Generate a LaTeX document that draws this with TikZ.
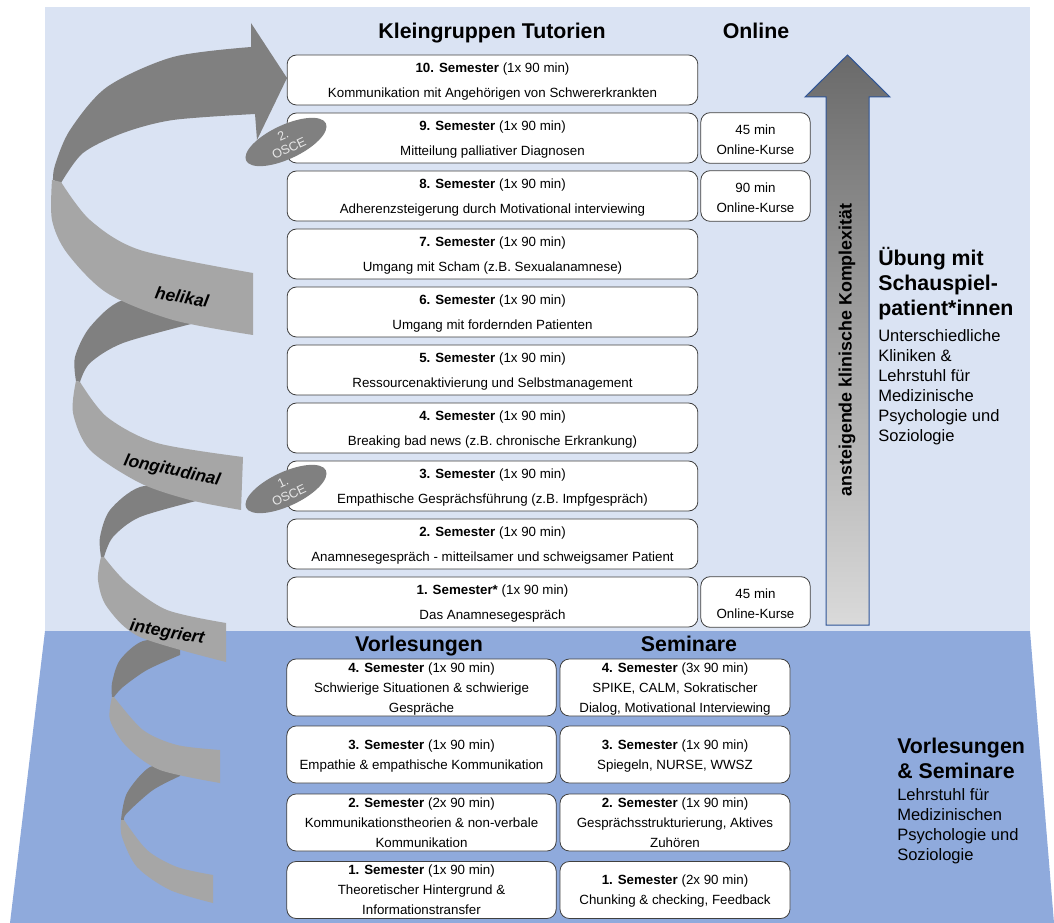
\documentclass[tikz,border=0pt]{standalone}
\usepackage{fontspec}
\setmainfont{Liberation Sans}
\usetikzlibrary{shapes.geometric}

\definecolor{bglight}{HTML}{DAE3F3}
\definecolor{bgdark}{HTML}{8FAADC}
\definecolor{bandback}{HTML}{808080}
\definecolor{bandfront}{HTML}{A6A6A6}
\definecolor{arrowblue}{HTML}{2F5597}
\definecolor{arrowtop}{HTML}{6A6A6A}
\definecolor{arrowbottom}{HTML}{DADADA}
\definecolor{boxline}{HTML}{404040}
\definecolor{osceText}{HTML}{E8E8E8}

\begin{document}
\begin{tikzpicture}[x=0.75pt,y=-0.75pt,
	semesterbox/.style={shape=rectangle,rounded corners=7pt,draw=boxline,fill=white,line width=0.6pt,
		inner sep=0pt,align=center},
	tutor/.style={semesterbox,minimum width=308pt,minimum height=37.5pt,text height=27pt,text depth=0.3pt,
		font=\fontsize{10}{19}\selectfont},
	online/.style={semesterbox,minimum width=82pt,minimum height=38pt,text height=24.4pt,text depth=0pt,
		font=\fontsize{10}{15}\selectfont},
	lecture/.style={semesterbox,minimum width=202pt,minimum height=42.75pt,text depth=-0.8pt,
		font=\fontsize{10}{15}\selectfont},
	seminar/.style={lecture,minimum width=172.5pt},
	heading/.style={anchor=base,font=\fontsize{16}{19}\selectfont\bfseries,inner sep=0pt},
	osce/.style={shape=ellipse,fill=bandback,text=osceText,minimum width=66pt,minimum height=25.5pt,
		inner sep=0pt,rotate=25,align=center,font=\fontsize{9.5}{10.5}\selectfont},
	bandlabel/.style={font=\fontsize{13}{15}\selectfont\bfseries\itshape,inner sep=0pt}]

	\useasboundingbox (0,0) rectangle (1054,923);

	% background
	\fill[bglight] (45,7) rectangle (1030,631);
	\fill[bgdark] (45,631) -- (1030,631) -- (1054,923) -- (10,923) -- cycle;

	% helix, back halves
	\fill[bandback] plot[smooth] coordinates {(251,47) (173,57) (107,87) (70,130) (55,165) (53,180)}
		-- plot[smooth] coordinates {(61,183) (83,153) (123,133) (173,120) (255,114)}
		-- (257,140) -- (287,78) -- (251,23) -- cycle;
	\fill[bandback] plot[smooth] coordinates {(180,300) (123,300) (90,327) (75,357) (76,381)}
		-- plot[smooth] coordinates {(80,382) (90,363) (123,343) (195,323)} -- cycle;
	\fill[bandback] plot[smooth] coordinates {(190,484) (140,487) (110,510) (100,537) (101,557)}
		-- plot[smooth] coordinates {(104,557) (113,537) (140,517) (200,500)} -- cycle;
	\fill[bandback] plot[smooth] coordinates {(180,640) (143,641) (120,660) (112,683) (112,697)}
		-- plot[smooth] coordinates {(114,697) (123,687) (147,670) (180,655)} -- cycle;
	\fill[bandback] plot[smooth] coordinates {(180,765) (150,767) (127,793) (121,820)}
		-- plot[smooth] coordinates {(124,820) (127,813) (153,790) (180,776)} -- cycle;

	% helix, front halves
	\fill[bandfront] plot[smooth] coordinates {(61,182) (90,220) (140,250) (253,273)}
		-- plot[smooth] coordinates {(253,335) (173,320) (107,293) (67,253) (52,220) (52,180)} -- cycle;
	\fill[bandfront] plot[smooth] coordinates {(80,382) (107,417) (157,443) (243,457)}
		-- plot[smooth] coordinates {(241,510) (190,500) (140,483) (90,450) (73,413) (76,381)} -- cycle;
	\fill[bandfront] plot[smooth] coordinates {(104,557) (127,583) (167,610) (226,623)}
		-- plot[smooth] coordinates {(226,662) (140,637) (107,607) (98,580) (101,557)} -- cycle;
	\fill[bandfront] plot[smooth] coordinates {(114,697) (143,730) (177,745) (220,750)}
		-- plot[smooth] coordinates {(220,783) (160,770) (127,747) (110,720) (112,697)} -- cycle;
	\fill[bandfront] plot[smooth] coordinates {(124,820) (147,850) (177,867) (213,875)}
		-- plot[smooth] coordinates {(213,903) (170,890) (137,867) (122,837) (121,820)} -- cycle;

	\node[bandlabel,rotate=-10] (helikal) at (182,297) {helikal};
	\node[bandlabel,rotate=-12] (longi) at (172,471) {longitudinal};
	\node[bandlabel,rotate=-10] (integ) at (167,633) {integriert};

	% column headings
	\node[heading] (htut) at (492,38.5) {Kleingruppen Tutorien};
	\node[heading] (honl) at (756,38.5) {Online};
	\node[heading] (hvor) at (419,652) {Vorlesungen};
	\node[heading] (hsem) at (689,652) {Seminare};

	% small group tutorials
	\node[tutor] (t10) at (492.5, 80) {\textbf{10. Semester} (1x 90 min)\\Kommunikation mit Angehörigen von Schwererkrankten};
	\node[tutor] (t9) at (492.5,138) {\textbf{9. Semester} (1x 90 min)\\Mitteilung palliativer Diagnosen};
	\node[tutor] (t8) at (492.5,196) {\textbf{8. Semester} (1x 90 min)\\Adherenzsteigerung durch Motivational interviewing};
	\node[tutor] (t7) at (492.5,254) {\textbf{7. Semester} (1x 90 min)\\Umgang mit Scham (z.B. Sexualanamnese)};
	\node[tutor] (t6) at (492.5,312) {\textbf{6. Semester} (1x 90 min)\\Umgang mit fordernden Patienten};
	\node[tutor] (t5) at (492.5,370) {\textbf{5. Semester} (1x 90 min)\\Ressourcenaktivierung und Selbstmanagement};
	\node[tutor] (t4) at (492.5,428) {\textbf{4. Semester} (1x 90 min)\\Breaking bad news (z.B. chronische Erkrankung)};
	\node[tutor] (t3) at (492.5,486) {\textbf{3. Semester} (1x 90 min)\\Empathische Gesprächsführung (z.B. Impfgespräch)};
	\node[tutor] (t2) at (492.5,544) {\textbf{2. Semester} (1x 90 min)\\Anamnesegespräch - mitteilsamer und schweigsamer Patient};
	\node[tutor] (t1) at (492.5,602) {\textbf{1. Semester*} (1x 90 min)\\Das Anamnesegespräch};

	% online courses
	\node[online] (o9) at (755.5,138) {45 min\\Online-Kurse};
	\node[online] (o8) at (755.5,196) {90 min\\Online-Kurse};
	\node[online] (o1) at (755.5,602) {45 min\\Online-Kurse};

	% lectures and seminars
	\node[lecture] (v4) at (421.5,687.5) {\textbf{4. Semester} (1x 90 min)\\Schwierige Situationen \& schwierige\\Gespräche};
	\node[lecture] (v3) at (421.5,754.5) {\textbf{3. Semester} (1x 90 min)\\Empathie \& empathische Kommunikation};
	\node[lecture] (v2) at (421.5,822.5) {\textbf{2. Semester} (2x 90 min)\\Kommunikationstheorien \& non-verbale\\Kommunikation};
	\node[lecture] (v1) at (421.5,890) {\textbf{1. Semester} (1x 90 min)\\Theoretischer Hintergrund \&\\Informationstransfer};
	\node[seminar] (s4) at (675,687.5) {\textbf{4. Semester} (3x 90 min)\\SPIKE, CALM, Sokratischer\\Dialog, Motivational Interviewing};
	\node[seminar] (s3) at (675,754.5) {\textbf{3. Semester} (1x 90 min)\\Spiegeln, NURSE, WWSZ};
	\node[seminar] (s2) at (675,822.5) {\textbf{2. Semester} (1x 90 min)\\Gesprächsstrukturierung, Aktives\\Zuhören};
	\node[seminar] (s1) at (675,890) {\textbf{1. Semester} (2x 90 min)\\Chunking \& checking, Feedback};

	% OSCE marks
	\node[osce] (osce2) at (286,142) {2.\\OSCE};
	\node[osce] (osce1) at (286,489) {1.\\OSCE};

	% complexity arrow
	\shade[draw=arrowblue,line width=0.75pt,top color=arrowtop,bottom color=arrowbottom]
		(826,625) -- (826,97) -- (805,97) -- (847.5,55) -- (890,97) -- (869,97) -- (869,625) -- cycle;
	\node[rotate=90,inner sep=0pt,font=\fontsize{13.4}{16}\selectfont\bfseries] (komplex) at (847,350)
		{ansteigende klinische Komplexität};

	% side notes
	\node[anchor=north west,align=left,inner sep=0pt,font=\fontsize{16}{18.75}\selectfont\bfseries] (uebung)
		at (878,247) {Übung mit\\Schauspiel-\\patient*innen};
	\node[anchor=north west,align=left,inner sep=0pt,font=\fontsize{12.4}{15}\selectfont] (kliniken)
		at (878,329) {Unterschiedliche\\Kliniken \&\\Lehrstuhl für\\Medizinische\\Psychologie und\\Soziologie};
	\node[anchor=north west,align=left,inner sep=0pt,font=\fontsize{16}{18.75}\selectfont\bfseries] (vorsem)
		at (897,738) {Vorlesungen\\\& Seminare};
	\node[anchor=north west,align=left,inner sep=0pt,font=\fontsize{12.4}{15}\selectfont] (lehrstuhl)
		at (897,788) {Lehrstuhl für\\Medizinischen\\Psychologie und\\Soziologie};
\end{tikzpicture}
\end{document}
